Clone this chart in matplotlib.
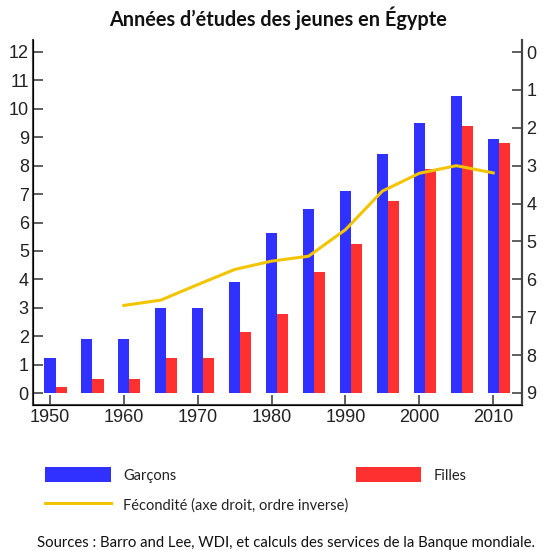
"""Annees d'etudes des jeunes en Egypte: garcons / filles (barres)
et fecondite sur l'axe droit inverse.
"""
import numpy as np
import matplotlib
matplotlib.use("Agg")
import matplotlib.pyplot as plt
from matplotlib.patches import Patch
from matplotlib.lines import Line2D

# -------------------------------------------------------
# Data.
# -------------------------------------------------------
years = [1950, 1955, 1960, 1965, 1970, 1975, 1980,
         1985, 1990, 1995, 2000, 2005, 2010]
garcons = [1.22, 1.9, 1.9, 3.0, 3.0, 3.9, 5.63,
           6.48, 7.1, 8.42, 9.5, 10.46, 8.93]
filles = [0.22, 0.5, 0.5, 1.25, 1.25, 2.14, 2.79,
          4.27, 5.26, 6.74, 7.87, 9.38, 8.79]
fert_years = [1960, 1965, 1970, 1975, 1980, 1985,
              1990, 1995, 2000, 2005, 2010]
fecondite = [6.69, 6.55, 6.14, 5.74, 5.52, 5.39,
             4.69, 3.67, 3.2, 3.0, 3.19]

xticks = [1950, 1960, 1970, 1980, 1990, 2000, 2010]

# -------------------------------------------------------
# Plot.
# -------------------------------------------------------
blue = "#3030ff"
red = "#ff3030"
yellow = "#f2c500"
tick_font = "Liberation Sans"
text_font = "Lato"

fig = plt.figure(figsize=(5.48, 5.50), dpi=100)
ax = fig.add_axes([0.0602, 0.2636, 0.8924, 0.6637])

x = np.array(years)
w = 1.5
ax.bar(x, garcons, width=w, color=blue, zorder=2)
ax.bar(x + w, filles, width=w, color=red, zorder=2)

ax.set_xlim(1947.7, 2013.9)
ax.set_ylim(-0.42, 12.42)
ax.set_xticks(xticks)
ax.set_yticks(range(0, 13))
ax.tick_params(direction="in", length=7, width=1.2, color="#444444",
               labelsize=13, pad=3)
for lab in ax.get_xticklabels() + ax.get_yticklabels():
    lab.set_family(tick_font)
    lab.set_color("#222222")
ax.spines["top"].set_visible(False)
for s in ["left", "bottom", "right"]:
    ax.spines[s].set_linewidth(1.5)
    ax.spines[s].set_color("#444444")

# right axis: fertility, inverted
ax2 = ax.twinx()
ax2.plot(fert_years, fecondite, color=yellow, lw=2.2, zorder=3)
ax2.set_ylim(9.32, -0.32)
ax2.set_yticks(range(0, 10))
ax2.tick_params(direction="in", length=7, width=1.2, color="#444444",
                labelsize=13, pad=3)
for lab in ax2.get_yticklabels():
    lab.set_family(tick_font)
    lab.set_color("#222222")
ax2.spines["top"].set_visible(False)
ax2.spines["right"].set_linewidth(1.5)
ax2.spines["right"].set_color("#444444")

fig.text(0.507, 0.967, "Années d\u2019études des jeunes en Égypte",
         ha="center", va="center", fontsize=14.3, fontweight="bold",
         family=text_font, color="#111111")

# legend below the plot
handles = [
    Patch(facecolor=blue, edgecolor="none", label="Garçons"),
    Line2D([], [], color=yellow, lw=2.2,
           label="Fécondité (axe droit, ordre inverse)"),
    Patch(facecolor=red, edgecolor="none", label="Filles"),
    ]
leg = fig.legend(
    handles=handles,
    ncol=2,
    loc="upper left",
    bbox_to_anchor=(0.082, 0.151),
    frameon=False,
    prop={"family": text_font, "size": 10.5},
    handlelength=4.5,
    handleheight=1.25,
    handletextpad=0.85,
    columnspacing=0.52,
    labelspacing=1.0,
    borderaxespad=0,
    borderpad=0,
    )
for t in leg.get_texts():
    t.set_color("#222222")

fig.text(0.522, 0.0127,
         "Sources : Barro and Lee, WDI, et calculs des services de la Banque mondiale.",
         ha="center", va="center", fontsize=10.7, family=text_font,
         color="#111111")

fig.savefig("out.png", dpi=100)
